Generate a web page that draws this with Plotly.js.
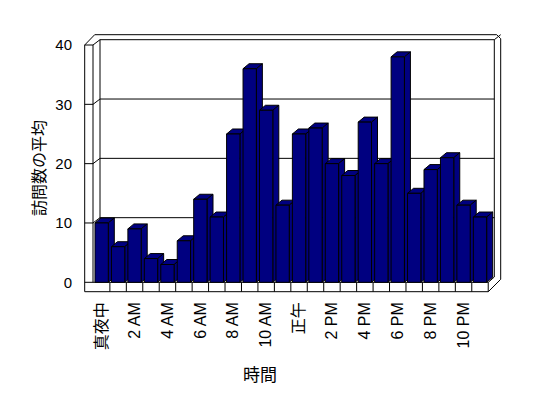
<!DOCTYPE html>
<html><head><meta charset="utf-8">
<script src="https://cdn.plot.ly/plotly-3.0.1.min.js"></script>
<style>html,body{margin:0;padding:0;background:#fff}</style>
</head><body><div id="chart" style="width:548px;height:398px"></div>
<script>
// ---- data ----
const hours = [0,1,2,3,4,5,6,7,8,9,10,11,12,13,14,15,16,17,18,19,20,21,22,23];
const visits = [10,6,9,4,3,7,14,11,25,36,29,13,25,26,20,18,27,20,38,15,19,21,13,11];
const tickHours = [0,2,4,6,8,10,12,14,16,18,20,22];
const tickLabels = ['真夜中','2 AM','4 AM','6 AM','8 AM','10 AM','正午','2 PM','4 PM','6 PM','8 PM','10 PM'];
const yTicks = [0,10,20,30,40];
const yTitle = '訪問数の平均';
const xTitle = '時間';

// ---- geometry (pixels -> data / paper) ----
const L=78, R=506, T=30, B=296;
const X0=101.65, XS=16.45, Y0=282.3, YS=5.9325;
const X = px => (px-X0)/XS;
const Y = py => (Y0-py)/YS;
const PX = px => (px-L)/(R-L);
const PY = py => (B-py)/(B-T);
const yf = v => Y0 - v*YS;      // front pixel of value
const BW = 0.81;                 // bar width (data units)
const bdx = 6/XS, bdy = 5/YS;    // bar depth
const NAVY = '#000080';
const ln = {color:'#000', width:1};

const shapes = [];
function line(x1,y1,x2,y2){ shapes.push({type:'line',xref:'x',yref:'y',x0:X(x1),y0:Y(y1),x1:X(x2),y1:Y(y2),line:ln,layer:'below'}); }
function poly(pts, fill){ // pts in data coords
  const d = 'M ' + pts.map(p=>p[0]+','+p[1]).join(' L ') + ' Z';
  shapes.push({type:'path',xref:'x',yref:'y',path:d,fillcolor:fill,line:ln,layer:'below'});
}

// walls
const wallDy = 5.3;
yTicks.forEach(v=>{
  const yb = yf(v) - wallDy;
  if (v>0) line(100, yb, 494.3, yb);
  line(84.7, yf(v), 93, yf(v));
  if (v>0) line(93, yf(v), 100, yb);
});
line(84.7, yf(40), 84.7, 291.7);
line(93, yf(40), 93, Y0);
line(100, yf(40)-wallDy, 100, Y0-wallDy);
line(84.7, yf(40), 94.7, 34.7);
line(94.7, 34.7, 496.7, 34.7);
line(496.7, 34.7, 500.7, 38.7);
line(494.3, yf(40)-wallDy, 500.7, 34.7);
line(494.3, yf(40)-wallDy, 494.3, Y0-wallDy);
line(500.7, 38.7, 500.7, 279.3);
line(500.7, 279.3, 488.3, 291.7);
// floor
line(84.7, 291.7, 488.3, 291.7);
line(93, Y0, 488.3, Y0);
line(488.3, Y0, 494.3, Y0-wallDy);
hours.forEach(h=>{
  const xb = X0 + XS*(h+0.5);
  line(xb, Y0, xb, 291.7);
});

// bar top and side faces
hours.forEach((h,i)=>{
  const v = visits[i], l = h-BW/2, r = h+BW/2;
  poly([[l,v],[r,v],[r+bdx,v+bdy],[l+bdx,v+bdy]], NAVY);
  poly([[r,0],[r,v],[r+bdx,v+bdy],[r+bdx,bdy]], NAVY);
});

const fam = 'Liberation Sans, Noto Sans CJK JP, sans-serif';
const font = {family:fam, size:15, color:'#000'};
const xfont = {family:fam, size:16, color:'#000'};

const data = [{
  type:'bar', x:hours, y:visits, width:BW,
  marker:{color:NAVY, line:{color:'#000', width:1}},
  hoverinfo:'none'
}];

const layout = {
  width:548, height:398,
  margin:{l:L, r:548-R, t:T, b:398-B, pad:0},
  paper_bgcolor:'#fff', plot_bgcolor:'#fff',
  showlegend:false,
  font: font,
  xaxis:{range:[X(L), X(R)], showgrid:false, zeroline:false, showline:false,
    tickmode:'array', tickvals:tickHours, ticktext:tickLabels, tickangle:-90,
    ticks:'', ticklabelstandoff:2, tickfont:xfont},
  yaxis:{range:[Y(B), Y(T)], showgrid:false, zeroline:false, showline:false,
    tickmode:'array', tickvals:yTicks, ticktext:yTicks.map(String),
    ticks:'', ticklabelstandoff:5, tickfont:font},
  shapes: shapes,
  annotations:[
    {xref:'paper', yref:'paper', x:PX(39), y:PY(168), text:yTitle, textangle:-90, showarrow:false,
     xanchor:'center', yanchor:'middle', font:{family:fam, size:16, color:'#000'}},
    {xref:'paper', yref:'paper', x:PX(259.5), y:PY(375), text:xTitle, showarrow:false,
     xanchor:'center', yanchor:'middle', font:{family:fam, size:17, color:'#000'}}
  ]
};
Plotly.newPlot('chart', data, layout, {staticPlot:true, displayModeBar:false});
</script></body></html>
